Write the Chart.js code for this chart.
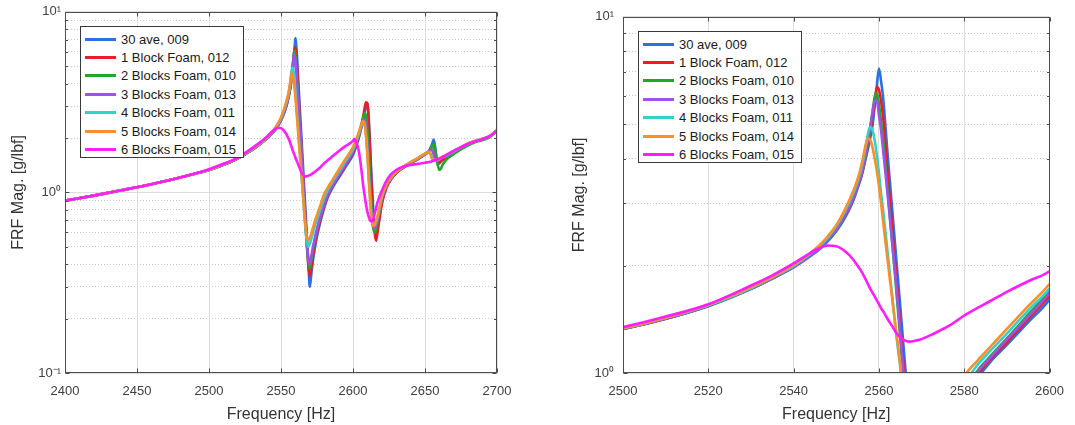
<!DOCTYPE html>
<html><head><meta charset="utf-8">
<script src="https://cdn.jsdelivr.net/npm/chart.js@4.4.1/dist/chart.umd.min.js"></script>
<style>
html,body{margin:0;padding:0;background:#fff;}
body{width:1075px;height:425px;position:relative;overflow:hidden;font-family:"Liberation Sans",Arial,Helvetica,sans-serif;}
.panel{position:absolute;top:0;height:425px;}
.legend{position:absolute;background:#fff;border:1px solid #3a3a3a;box-sizing:border-box;width:164px;height:132px;padding-top:3px;}
.legend .row{height:18.4px;display:flex;align-items:center;font-size:13px;color:#1a1a1a;white-space:nowrap;}
.legend .sw{width:31px;height:3px;margin-left:4px;margin-right:5px;flex:none;}
</style></head><body>
<div class="panel" style="left:0;width:540px"><canvas id="cL" width="540" height="425"></canvas><div class="legend" id="lgL"></div></div>
<div class="panel" style="left:540px;width:535px"><canvas id="cR" width="535" height="425"></canvas><div class="legend" id="lgR"></div></div>
<script>
// ---------- data ----------
const freq = [
 2400,2420,2440,2460,2480,
 2500,2510,2520,2530,2535,
 2540,2543,2546,2548,2550,
 2552,2554,2555,2556,2557,
 2557.5,2558,2558.5,2559,2559.5,
 2560,2560.5,2561,2562,2563,
 2564,2565,2566,2567,2568,
 2569,2570,2571,2572,2574,
 2577,2580,2583,2586,2590,
 2595,2600,2601,2602,2604,
 2606,2607,2608,2609,2610,
 2611,2612,2613,2614,2615,
 2616,2617,2618,2620,2623,
 2626,2630,2635,2640,2645,
 2650,2652,2653,2654,2655,
 2656,2657,2658,2659,2660,
 2661,2662,2664,2667,2670,
 2675,2680,2685,2690,2695,
 2700];

const ave30_009 = [
 0.90,0.96,1.03,1.11,1.21,
 1.33,1.42,1.54,1.72,1.84,
 1.98,2.09,2.22,2.34,2.50,
 2.72,3.05,3.30,3.60,4.05,
 4.30,4.60,4.95,5.60,6.40,
 7.16,6.60,5.90,4.16,2.99,
 2.14,1.54,1.10,0.79,0.57,
 0.41,0.30,0.35,0.41,0.52,
 0.67,0.82,0.96,1.07,1.20,
 1.39,1.61,1.69,1.78,2.00,
 2.30,2.50,2.75,3.00,3.10,
 2.50,1.70,1.15,0.82,0.64,
 0.57,0.62,0.70,0.88,1.06,
 1.17,1.28,1.37,1.45,1.53,
 1.62,1.67,1.71,1.77,1.86,
 1.96,1.80,1.55,1.45,1.45,
 1.48,1.51,1.55,1.61,1.67,
 1.76,1.85,1.92,1.97,2.04,
 2.20];

const block1_012 = [
 0.90,0.96,1.03,1.11,1.21,
 1.33,1.42,1.545,1.725,1.845,
 1.99,2.10,2.24,2.36,2.52,
 2.75,3.08,3.33,3.62,4.10,
 4.40,4.75,5.20,5.75,6.35,
 6.25,5.80,5.20,3.70,2.65,
 1.90,1.36,0.97,0.71,0.52,
 0.39,0.345,0.38,0.43,0.54,
 0.69,0.84,0.98,1.09,1.22,
 1.42,1.65,1.73,1.82,2.05,
 2.38,2.60,2.90,3.15,3.10,
 2.40,1.60,1.05,0.75,0.60,
 0.54,0.60,0.68,0.86,1.05,
 1.17,1.28,1.37,1.45,1.53,
 1.62,1.67,1.70,1.75,1.80,
 1.84,1.65,1.50,1.44,1.46,
 1.49,1.51,1.55,1.61,1.67,
 1.76,1.85,1.92,1.97,2.04,
 2.20];

const blocks2_010 = [
 0.90,0.96,1.03,1.11,1.21,
 1.33,1.42,1.545,1.725,1.845,
 1.99,2.10,2.24,2.36,2.52,
 2.76,3.10,3.35,3.65,4.15,
 4.50,4.90,5.40,5.95,6.10,
 5.70,5.10,4.50,3.30,2.40,
 1.75,1.25,0.90,0.66,0.50,
 0.41,0.38,0.42,0.47,0.57,
 0.72,0.87,1.01,1.11,1.25,
 1.46,1.71,1.79,1.88,2.10,
 2.40,2.60,2.75,2.65,2.20,
 1.60,1.10,0.80,0.64,0.60,
 0.62,0.68,0.75,0.91,1.08,
 1.18,1.29,1.38,1.46,1.54,
 1.63,1.67,1.70,1.74,1.80,
 1.86,1.75,1.55,1.40,1.33,
 1.35,1.41,1.49,1.57,1.63,
 1.73,1.82,1.90,1.95,2.02,
 2.20];

const blocks3_013 = [
 0.90,0.96,1.03,1.11,1.21,
 1.33,1.42,1.545,1.725,1.845,
 1.99,2.10,2.24,2.37,2.53,
 2.77,3.10,3.36,3.66,4.20,
 4.55,4.95,5.40,5.80,5.80,
 5.30,4.80,4.20,3.20,2.40,
 1.80,1.30,0.93,0.68,0.52,
 0.43,0.40,0.44,0.49,0.58,
 0.72,0.86,1.00,1.10,1.24,
 1.44,1.68,1.76,1.86,2.08,
 2.35,2.50,2.55,2.30,1.80,
 1.30,0.95,0.75,0.64,0.63,
 0.65,0.70,0.77,0.92,1.08,
 1.18,1.29,1.38,1.46,1.54,
 1.63,1.67,1.69,1.71,1.72,
 1.62,1.53,1.50,1.50,1.52,
 1.54,1.56,1.58,1.63,1.68,
 1.77,1.86,1.93,1.98,2.05,
 2.21];

const blocks4_011 = [
 0.90,0.96,1.03,1.11,1.21,
 1.335,1.43,1.55,1.73,1.855,
 2.00,2.12,2.27,2.40,2.58,
 2.84,3.20,3.45,3.80,4.40,
 4.75,4.91,4.80,4.50,4.10,
 3.65,3.20,2.85,2.20,1.70,
 1.30,1.04,0.80,0.63,0.53,
 0.50,0.52,0.55,0.59,0.67,
 0.79,0.93,1.05,1.15,1.29,
 1.50,1.73,1.81,1.90,2.10,
 2.35,2.45,2.40,2.10,1.65,
 1.20,0.90,0.73,0.66,0.66,
 0.69,0.73,0.79,0.94,1.10,
 1.20,1.30,1.39,1.47,1.55,
 1.64,1.66,1.67,1.63,1.55,
 1.50,1.50,1.51,1.52,1.53,
 1.55,1.57,1.59,1.64,1.69,
 1.78,1.86,1.93,1.98,2.05,
 2.21];

const blocks5_014 = [
 0.90,0.96,1.03,1.11,1.21,
 1.335,1.43,1.555,1.74,1.86,
 2.01,2.13,2.28,2.42,2.60,
 2.87,3.25,3.50,3.88,4.42,
 4.56,4.50,4.30,4.00,3.70,
 3.35,3.00,2.65,2.09,1.66,
 1.32,1.05,0.80,0.65,0.56,
 0.545,0.56,0.59,0.63,0.71,
 0.83,0.98,1.08,1.18,1.33,
 1.54,1.78,1.86,1.94,2.15,
 2.40,2.48,2.40,2.05,1.60,
 1.15,0.87,0.71,0.65,0.66,
 0.69,0.74,0.80,0.95,1.10,
 1.20,1.30,1.39,1.47,1.55,
 1.64,1.67,1.68,1.61,1.53,
 1.50,1.51,1.52,1.53,1.54,
 1.56,1.57,1.60,1.65,1.70,
 1.78,1.87,1.93,1.98,2.05,
 2.21];

const blocks6_015 = [
 0.90,0.96,1.03,1.11,1.21,
 1.345,1.44,1.56,1.76,1.88,
 2.03,2.14,2.24,2.28,2.27,
 2.20,2.08,2.00,1.92,1.82,
 1.77,1.72,1.68,1.64,1.60,
 1.56,1.52,1.49,1.42,1.36,
 1.30,1.26,1.235,1.225,1.228,
 1.235,1.245,1.26,1.275,1.31,
 1.37,1.45,1.52,1.59,1.69,
 1.81,1.93,1.98,1.92,1.70,
 1.30,1.10,0.97,0.86,0.78,
 0.73,0.695,0.69,0.71,0.76,
 0.82,0.88,0.93,1.02,1.15,
 1.25,1.33,1.39,1.42,1.44,
 1.46,1.47,1.475,1.48,1.49,
 1.50,1.51,1.52,1.53,1.54,
 1.55,1.57,1.60,1.65,1.70,
 1.78,1.86,1.92,1.97,2.05,
 2.20];

const seriesLabels = ['30 ave, 009','1 Block Foam, 012','2 Blocks Foam, 010','3 Blocks Foam, 013','4 Blocks Foam, 011','5 Blocks Foam, 014','6 Blocks Foam, 015'];
const seriesValues = [ave30_009, block1_012, blocks2_010, blocks3_013, blocks4_011, blocks5_014, blocks6_015];
const seriesColors = ['#2c6fe6','#ee1c24','#21a82a','#9d52ee','#33d2c8','#f7902a','#ff1cff'];

const xTicksLeft  = [2400,2450,2500,2550,2600,2650,2700];
const xTicksRight = [2500,2520,2540,2560,2580,2600];
const yTicksLeft  = [0.1,0.2,0.3,0.4,0.5,0.6,0.7,0.8,0.9,1,2,3,4,5,6,7,8,9,10];
const yTicksRight = [1,2,3,4,5,6,7,8,9,10];

// ---------- drawing ----------
const FONT = "'Liberation Sans', Arial, Helvetica, sans-serif";
const isDecade = v => Math.abs(Math.log10(v) - Math.round(Math.log10(v))) < 1e-9;
const SUP = {'-':'\u207B','0':'\u2070','1':'\u00B9','2':'\u00B2','3':'\u00B3'};
const decadeLabel = v => isDecade(v) ? '10' + String(Math.round(Math.log10(v))).split('').map(c => SUP[c]).join('') : '';

const framePlugin = {
  id: 'frame',
  afterDraw(chart) {
    const {ctx, chartArea: a, scales} = chart;
    const L = Math.round(a.left) + 0.5, R = Math.round(a.right) - 0.5, T = Math.round(a.top) + 0.5, B = Math.round(a.bottom) - 0.5;
    ctx.save();
    ctx.strokeStyle = '#4d4d4d';
    ctx.lineWidth = 1;
    ctx.beginPath();
    scales.x.ticks.forEach(t => {
      const px = Math.round(scales.x.getPixelForValue(t.value)) + 0.5;
      ctx.moveTo(px, B); ctx.lineTo(px, B - 4);
      ctx.moveTo(px, T); ctx.lineTo(px, T + 4);
    });
    scales.y.ticks.forEach(t => {
      const py = Math.round(scales.y.getPixelForValue(t.value)) + 0.5;
      const len = isDecade(t.value) ? 4 : 2.5;
      ctx.moveTo(L, py); ctx.lineTo(L + len, py);
      ctx.moveTo(R, py); ctx.lineTo(R - len, py);
    });
    ctx.stroke();
    ctx.strokeRect(L, T, R - L, B - T);
    ctx.restore();
  }
};

function makeChart(canvasId, legendId, cfg) {
  const datasets = seriesValues.map((vals, i) => ({
    label: seriesLabels[i],
    data: freq.map((f, k) => ({x: f, y: vals[k]})),
    borderColor: seriesColors[i],
    backgroundColor: seriesColors[i],
    borderWidth: 2.6,
    pointRadius: 0,
    cubicInterpolationMode: 'monotone',
    order: seriesValues.length - i,
    clip: 0
  }));
  const chart = new Chart(document.getElementById(canvasId), {
    type: 'line',
    data: {datasets},
    plugins: [framePlugin],
    options: {
      responsive: false, animation: false, devicePixelRatio: 1, events: [],
      layout: {padding: {left: 0, top: 11, right: cfg.padRight, bottom: 0}},
      plugins: {legend: {display: false}, tooltip: {enabled: false}},
      scales: {
        x: {
          type: 'linear', min: cfg.xMin, max: cfg.xMax,
          afterBuildTicks: s => { s.ticks = cfg.xTicks.map(v => ({value: v})); },
          afterFit: s => { s.height = 52; },
          ticks: {autoSkip: false, maxRotation: 0, padding: 11, color: '#404040', font: {family: FONT, size: 13}, callback: v => String(v)},
          grid: {drawTicks: false, color: '#dedede', lineWidth: 1},
          border: {display: false},
          title: {display: true, text: 'Frequency [Hz]', color: '#333', font: {family: FONT, size: 16}, padding: {top: 0, bottom: 1}}
        },
        y: {
          type: 'logarithmic', min: cfg.yMin, max: cfg.yMax,
          afterBuildTicks: s => { s.ticks = cfg.yTicks.map(v => ({value: v})); },
          afterFit: s => { s.width = cfg.yWidth; },
          ticks: {autoSkip: false, padding: cfg.yLabelPad, color: '#404040', font: {family: FONT, size: 13}, callback: v => decadeLabel(v)},
          grid: {drawTicks: false, lineWidth: 1, color: c => (c.tick && isDecade(c.tick.value)) ? '#dedede' : '#c8c8c8'},
          border: {display: false, dash: c => (c.tick && isDecade(c.tick.value)) ? [] : [1, 2]},
          title: {display: true, text: 'FRF Mag. [g/lbf]', color: '#333', font: {family: FONT, size: 16}, padding: {top: cfg.yTitlePad, bottom: 0}}
        }
      }
    }
  });
  const lg = document.getElementById(legendId);
  seriesLabels.forEach((lab, i) => {
    const row = document.createElement('div'); row.className = 'row';
    const sw = document.createElement('span'); sw.className = 'sw'; sw.style.background = seriesColors[i];
    const tx = document.createElement('span'); tx.textContent = lab;
    row.appendChild(sw); row.appendChild(tx); lg.appendChild(row);
  });
  lg.style.left = Math.round(chart.chartArea.left + 14.5) + 'px';
  lg.style.top = Math.round(chart.chartArea.top + 14) + 'px';
  return chart;
}

makeChart('cL', 'lgL', {padRight: 43, xMin: 2400, xMax: 2700, xTicks: xTicksLeft, yMin: 0.1, yMax: 10, yTicks: yTicksLeft, yWidth: 65, yLabelPad: 4, yTitlePad: 8.5});
makeChart('cR', 'lgR', {padRight: 22, xMin: 2500, xMax: 2600, xTicks: xTicksRight, yMin: 1, yMax: 10, yTicks: yTicksRight, yWidth: 83, yLabelPad: 9, yTitlePad: 30});
</script></body></html>
